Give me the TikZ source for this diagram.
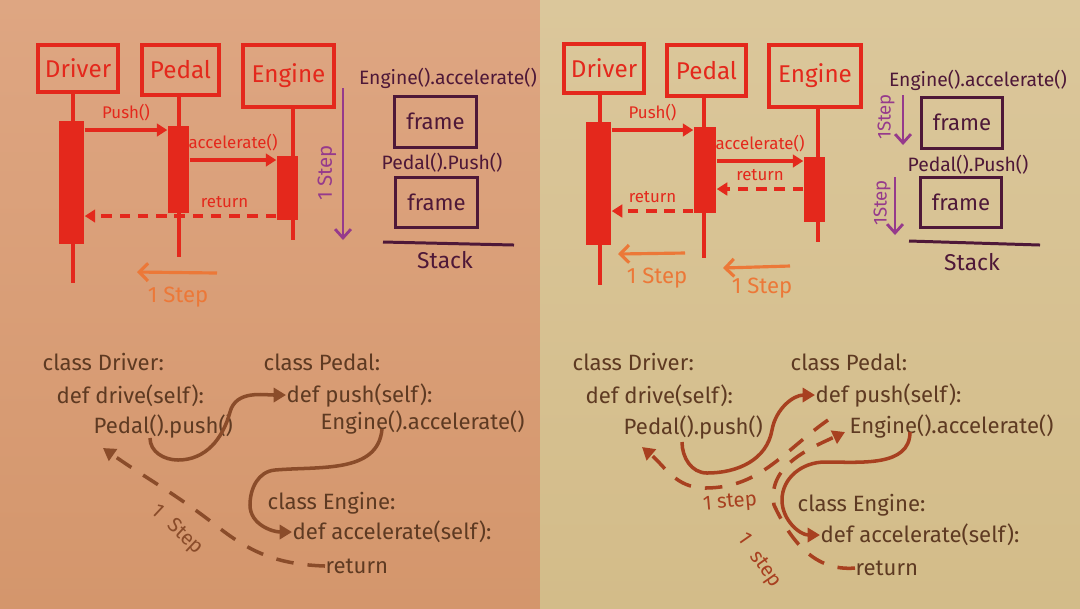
\documentclass[tikz,border=0pt]{standalone}
\usepackage{fontspec}
\setmainfont{Fira Sans}
\usetikzlibrary{arrows.meta, calc}
\definecolor{bgl}{RGB}{222,166,130}
\definecolor{bglb}{RGB}{212,150,108}
\definecolor{bgr}{RGB}{219,199,155}
\definecolor{bgrb}{RGB}{211,188,137}
\definecolor{seq}{RGB}{228,40,28}
\definecolor{tang}{RGB}{236,120,56}
\definecolor{plum}{RGB}{150,58,140}
\definecolor{ink}{RGB}{78,24,56}
\definecolor{bark}{RGB}{94,58,34}
\definecolor{rustl}{RGB}{138,76,42}
\definecolor{rustr}{RGB}{168,64,32}

\begin{document}
\begin{tikzpicture}[
    act/.style={draw=seq, line width=0.9pt, text=seq, inner sep=1pt,
                font=\fontsize{6.9}{8}\selectfont},
    bar/.style={fill=seq, draw=none, inner sep=0pt},
    lfl/.style={seq, line width=0.9pt},
    msg/.style={seq, line width=0.9pt, -{Triangle[length=3pt,width=3.6pt]}},
    rtn/.style={msg, dash pattern=on 3pt off 2.2pt},
    lb/.style={text=seq, font=\fontsize{4.8}{6}\selectfont, inner sep=1pt},
    stp/.style={tang, line width=0.9pt, -{Straight Barb[length=2.5pt,width=5pt]}},
    stl/.style={text=tang, font=\fontsize{6.3}{7}\selectfont},
    dwn/.style={plum, line width=0.8pt, -{Straight Barb[length=2.5pt,width=4.5pt]}},
    dwl/.style={text=plum, rotate=90, font=\fontsize{5.8}{7}\selectfont},
    frm/.style={draw=ink, line width=0.85pt, text=ink,
                font=\fontsize{6.3}{7}\selectfont},
    stk/.style={text=ink, inner sep=1pt, font=\fontsize{5.5}{6}\selectfont},
    code/.style={text=bark, anchor=west, inner sep=0pt,
                 font=\fontsize{6.3}{7.5}\selectfont},
    cur/.style={line width=1pt, -{Triangle[length=3.5pt,width=4pt]}},
    dsh/.style={cur, dash pattern=on 5pt off 4pt},
    sl/.style={font=\fontsize{5.8}{7}\selectfont, inner sep=1pt}
  ]
    %% Paper ──────────────────────────────────
    \useasboundingbox (0,0) rectangle (10.8,-6.08);
    \shade[top color=bgl, bottom color=bglb] (0,0) rectangle (5.4,-6.08);
    \shade[top color=bgr, bottom color=bgrb] (5.4,0) rectangle (10.8,-6.08);

    %% Left: sequence ─────────────────────────
    \node[act, minimum width=0.80cm, minimum height=0.47cm] (lD) at (0.78,-0.685) {Driver};
    \node[act, minimum width=0.77cm, minimum height=0.50cm] (lP) at (1.805,-0.70) {Pedal};
    \node[act, minimum width=0.91cm, minimum height=0.62cm] (lE) at (2.885,-0.76) {Engine};
    \coordinate (lDe) at (0.73,-2.83);
    \coordinate (lPe) at (1.79,-2.57);
    \coordinate (lEe) at (2.93,-2.40);
    \draw[lfl] (lD.south -| lDe) -- (lDe);
    \draw[lfl] (lP.south -| lPe) -- (lPe);
    \draw[lfl] (lE.south -| lEe) -- (lEe);
    \node[bar, minimum width=0.25cm, minimum height=1.23cm] (lDb) at (0.715,-1.825) {};
    \node[bar, minimum width=0.21cm, minimum height=0.87cm] (lPb) at (1.785,-1.695) {};
    \node[bar, minimum width=0.21cm, minimum height=0.64cm] (lEb) at (2.875,-1.88) {};

    \draw[msg] (lDb.east |- 0,-1.30) -- (lPb.west |- 0,-1.30)
          node[lb, midway, above=1pt]{Push()};
    \draw[msg] (lPb.east |- 0,-1.60) -- (lEb.west |- 0,-1.60)
          node[lb, midway, above=1pt]{accelerate()};
    \draw[rtn] (lEb.west |- 0,-2.16) -- (lDb.east |- 0,-2.16)
          node[lb, pos=0.27, above=1pt]{return};

    \coordinate (lSa) at (2.17,-2.73);
    \coordinate (lSb) at (1.37,-2.72);
    \draw[stp] (lSa) -- (lSb);
    \node[stl] (lSl) at (1.78,-2.97) {1 Step};

    %% Left: stack ────────────────────────────
    \coordinate (lVa) at (3.43,-0.88);
    \coordinate (lVb) at (3.43,-2.40);
    \draw[dwn] (lVa) -- (lVb);
    \node[dwl] (lVl) at (3.27,-1.73) {1 Step};
    \node[stk] (lS1) at (4.48,-0.78) {Engine().accelerate()};
    \node[frm, minimum width=0.71cm, minimum height=0.51cm] (lF1) at (4.355,-1.215) {frame};
    \node[stk] (lS2) at (4.42,-1.63) {Pedal().Push()};
    \node[frm, minimum width=0.75cm, minimum height=0.50cm] (lF2) at (4.365,-2.02) {frame};
    \draw[ink, line width=0.85pt] (3.83,-2.42) -- (5.14,-2.45);
    \node[stk, font=\fontsize{6.5}{7}\selectfont] (lStk) at (4.45,-2.60) {Stack};

    %% Right: sequence ────────────────────────
    \node[act, minimum width=0.80cm, minimum height=0.49cm] (rD) at (6.04,-0.685) {Driver};
    \node[act, minimum width=0.79cm, minimum height=0.51cm] (rP) at (7.065,-0.705) {Pedal};
    \node[act, minimum width=0.92cm, minimum height=0.62cm] (rE) at (8.15,-0.76) {Engine};
    \coordinate (rDe) at (6.00,-2.85);
    \coordinate (rPe) at (7.04,-2.58);
    \coordinate (rEe) at (8.18,-2.42);
    \draw[lfl] (rD.south -| rDe) -- (rDe);
    \draw[lfl] (rP.south -| rPe) -- (rPe);
    \draw[lfl] (rE.south -| rEe) -- (rEe);
    \node[bar, minimum width=0.25cm, minimum height=1.23cm] (rDb) at (5.985,-1.835) {};
    \node[bar, minimum width=0.22cm, minimum height=0.86cm] (rPb) at (7.05,-1.70) {};
    \node[bar, minimum width=0.21cm, minimum height=0.65cm] (rEb) at (8.145,-1.895) {};

    \draw[msg] (rDb.east |- 0,-1.30) -- (rPb.west |- 0,-1.30)
          node[lb, midway, above=1pt]{Push()};
    \draw[msg] (rPb.east |- 0,-1.61) -- (rEb.west |- 0,-1.61)
          node[lb, midway, above=1pt]{accelerate()};
    \draw[rtn] (rEb.west |- 0,-1.89) -- (rPb.east |- 0,-1.89)
          node[lb, midway, above=1pt]{return};
    \draw[rtn] (rPb.west |- 0,-2.11) -- (rDb.east |- 0,-2.11)
          node[lb, midway, above=1pt]{return};

    \coordinate (rSa) at (6.85,-2.53);
    \coordinate (rSb) at (6.18,-2.54);
    \draw[stp] (rSa) -- (rSb);
    \node[stl] (rSl) at (6.57,-2.78) {1 Step};
    \coordinate (rTa) at (7.90,-2.66);
    \coordinate (rTb) at (7.23,-2.68);
    \draw[stp] (rTa) -- (rTb);
    \node[stl] (rTl) at (7.62,-2.88) {1 Step};

    %% Right: stack ───────────────────────────
    \node[stk] (rS1) at (9.78,-0.80) {Engine().accelerate()};
    \node[frm, minimum width=0.70cm, minimum height=0.51cm] (rF1) at (9.62,-1.225) {frame};
    \node[stk] (rS2) at (9.68,-1.65) {Pedal().Push()};
    \node[frm, minimum width=0.72cm, minimum height=0.50cm] (rF2) at (9.61,-2.02) {frame};
    \draw[ink, line width=0.85pt] (9.09,-2.41) -- (10.40,-2.45);
    \node[stk, font=\fontsize{6.5}{7}\selectfont] (rStk) at (9.72,-2.62) {Stack};
    \coordinate (rVa) at (9.03,-0.95);
    \coordinate (rVb) at (9.03,-1.45);
    \draw[dwn] (rVa) -- (rVb);
    \node[dwl, font=\fontsize{5.3}{6}\selectfont] (rVl) at (8.86,-1.17) {1Step};
    \coordinate (rWa) at (8.95,-1.77);
    \coordinate (rWb) at (8.95,-2.35);
    \draw[dwn] (rWa) -- (rWb);
    \node[dwl, font=\fontsize{5.3}{6}\selectfont] (rWl) at (8.82,-2.03) {1Step};

    %% Left: code ─────────────────────────────
    \node[code] (lcD)   at (0.42,-3.62) {class Driver:};
    \node[code] (lcDrv) at (0.56,-3.96) {def drive(self):};
    \node[code] (lcPp)  at (0.93,-4.26) {Pedal().push()};
    \node[code] (lcP)   at (2.63,-3.62) {class Pedal:};
    \node[code] (lcPsh) at (2.86,-3.95) {def push(self):};
    \node[code] (lcEng) at (3.20,-4.22) {Engine().accelerate()};
    \node[code] (lcE)   at (2.67,-5.03) {class Engine:};
    \node[code] (lcAcc) at (2.92,-5.32) {def accelerate(self):};
    \node[code] (lcRet) at (3.25,-5.66) {return};

    \draw[cur, rustl] ([shift={(0.57,-0.12)}]lcPp.west)
          to[out=-90,in=180] (1.78,-4.60)
          to[out=0,in=-105] (2.30,-4.12)
          to[out=75,in=180] (lcPsh.west);
    \draw[cur, rustl] ([shift={(0.62,-0.07)}]lcEng.west)
          to[out=-95,in=5] (2.75,-4.70)
          to[out=185,in=90] (2.50,-5.05)
          to[out=-90,in=180] (lcAcc.west);
    \draw[dsh, rustl] (lcRet.west)
          to[out=178,in=-38] (2.18,-5.27)
          to[out=142,in=-35] ([shift={(0.10,-0.22)}]lcPp.west);
    \node[sl, text=rustl, rotate=-43] (lcS) at (1.77,-5.30) {1\hspace{3.5pt}Step};

    %% Right: code ────────────────────────────
    \node[code] (rcD)   at (5.72,-3.62) {class Driver:};
    \node[code] (rcDrv) at (5.85,-3.96) {def drive(self):};
    \node[code] (rcPp)  at (6.23,-4.27) {Pedal().push()};
    \node[code] (rcP)   at (7.90,-3.62) {class Pedal:};
    \node[code] (rcPsh) at (8.15,-3.95) {def push(self):};
    \node[code] (rcEng) at (8.49,-4.26) {Engine().accelerate()};
    \node[code] (rcE)   at (7.97,-5.05) {class Engine:};
    \node[code] (rcAcc) at (8.20,-5.35) {def accelerate(self):};
    \node[code] (rcRet) at (8.55,-5.68) {return};

    \draw[cur, rustr] ([shift={(0.59,-0.15)}]rcPp.west)
          to[out=-90,in=180] (7.07,-4.73)
          to[out=0,in=-100] (7.72,-4.30)
          to[out=80,in=180] (rcPsh.west);
    \draw[cur, rustr] ([shift={(0.61,-0.06)}]rcEng.west)
          to[out=-90,in=0] (8.25,-4.62)
          to[out=180,in=90] (7.82,-5.00)
          to[out=-90,in=180] (rcAcc.west);
    \draw[dsh, rustr] (rcRet.west)
          to[out=185,in=-65] (7.74,-5.05)
          to[out=100,in=205] ([shift={(-0.04,-0.06)}]rcEng.west);
    \coordinate (rcB) at ($(rcEng.west)+(-0.21,0.06)$);
    \draw[dsh, rustr] (rcB)
          to[out=-145,in=0] (7.05,-4.88)
          to[out=180,in=-40] ([shift={(0.19,-0.20)}]rcPp.west);
    \node[sl, text=rustr, rotate=5] (rcS1) at (7.30,-5.03) {1 step};
    \node[sl, text=rustr, rotate=-55] (rcS2) at (7.59,-5.61) {1\hspace{3.5pt}step};

  \end{tikzpicture}
\end{document}
